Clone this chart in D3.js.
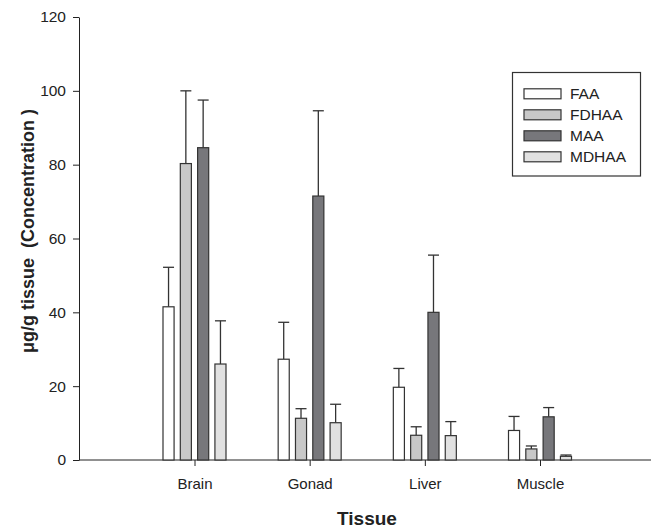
<!DOCTYPE html>
<html>
<head>
<meta charset="utf-8">
<script src="https://d3js.org/d3.v7.min.js"></script>
<style>
  body { margin: 0; background: #fff; }
  svg text { font-family: "Liberation Sans", Arial, sans-serif; fill: #222; }
</style>
</head>
<body>
<svg id="chart" width="651" height="529"></svg>
<script>
// data
var tissues = ["Brain", "Gonad", "Liver", "Muscle"];
var series = ["FAA", "FDHAA", "MAA", "MDHAA"];
var colors = ["#ffffff", "#c8c8c8", "#77777b", "#e1e1e1"];
// mean values, one array per series (Brain, Gonad, Liver, Muscle)
var faa = [41.5, 27.3, 19.7, 8.0];
var fdhaa = [80.3, 11.3, 6.7, 3.0];
var maa = [84.6, 71.5, 40.0, 11.7];
var mdhaa = [26.0, 10.1, 6.6, 1.0];
// top of the error bars
var faaErr = [52.2, 37.3, 24.8, 11.8];
var fdhaaErr = [100.0, 13.9, 9.0, 3.8];
var maaErr = [97.5, 94.6, 55.5, 14.2];
var mdhaaErr = [37.7, 15.1, 10.4, 1.35];
var yTicks = [0, 20, 40, 60, 80, 100, 120];

var values = [faa, fdhaa, maa, mdhaa];
var errs = [faaErr, fdhaaErr, maaErr, mdhaaErr];

var svg = d3.select("#chart");
var mLeft = 79, mRight = 651, mTop = 17, mBottom = 460;

var y = d3.scaleLinear().domain([0, 120]).range([mBottom, mTop]);
var x = d3.scalePoint().domain(tissues).range([194.5, 540]);
var xs = d3.scaleBand().domain(series).range([-31.5, 31.5]).paddingInner(0.36);

// y axis
var yAxis = svg.append("g")
    .attr("transform", "translate(" + mLeft + ",0)")
    .call(d3.axisLeft(y).tickValues(yTicks).tickSize(6).tickSizeOuter(0));
yAxis.select(".domain").attr("stroke", "#222");
yAxis.selectAll(".tick line").attr("stroke", "#222");
yAxis.selectAll("text").attr("font-size", 15.5).attr("fill", "#222").attr("x", -13);

// x axis
var xAxis = svg.append("g")
    .attr("transform", "translate(0," + mBottom + ")")
    .call(d3.axisBottom(x).tickSize(6).tickSizeOuter(0));
xAxis.select(".domain").remove();
xAxis.append("line").attr("x1", mLeft).attr("x2", mRight).attr("stroke", "#222");
xAxis.selectAll(".tick line").attr("stroke", "#222");
xAxis.selectAll("text").attr("font-size", 15).attr("fill", "#222").attr("dy", "1.35em");

// bars and error bars
series.forEach(function(s, si) {
    var g = svg.append("g");
    var rows = tissues.map(function(t, i) {
        return { t: t, v: values[si][i], e: errs[si][i] };
    });
    var cx = function(d) { return x(d.t) + xs(s) + xs.bandwidth() / 2; };

    g.selectAll("line.err")
        .data(rows)
        .enter()
        .append("line")
        .attr("x1", cx).attr("x2", cx)
        .attr("y1", function(d) { return y(d.v); })
        .attr("y2", function(d) { return y(d.e); })
        .attr("stroke", "#333").attr("stroke-width", 1.3);
    g.selectAll("line.cap")
        .data(rows)
        .enter()
        .append("line")
        .attr("x1", function(d) { return cx(d) - 5.5; })
        .attr("x2", function(d) { return cx(d) + 5.5; })
        .attr("y1", function(d) { return y(d.e); })
        .attr("y2", function(d) { return y(d.e); })
        .attr("stroke", "#333").attr("stroke-width", 1.3);
    g.selectAll("rect")
        .data(rows)
        .enter()
        .append("rect")
        .attr("x", function(d) { return x(d.t) + xs(s); })
        .attr("width", xs.bandwidth())
        .attr("y", function(d) { return y(d.v); })
        .attr("height", function(d) { return y(0) - y(d.v); })
        .attr("fill", colors[si])
        .attr("stroke", "#333").attr("stroke-width", 1.2);
});

// axis titles
svg.append("text")
    .attr("transform", "translate(34,231) rotate(-90)")
    .attr("text-anchor", "middle")
    .attr("font-size", 18).attr("font-weight", "bold")
    .style("white-space", "pre")
    .text("\u03bcg/g tissue  (Concentration )");
svg.append("text")
    .attr("x", 367).attr("y", 525)
    .attr("text-anchor", "middle")
    .attr("font-size", 19).attr("font-weight", "bold")
    .text("Tissue");

// legend
var legend = svg.append("g");
legend.append("rect")
    .attr("x", 512.5).attr("y", 72.5).attr("width", 128).attr("height", 103.5)
    .attr("fill", "#fff").attr("stroke", "#333").attr("stroke-width", 1.2);
var items = legend.selectAll("g.item")
    .data(series)
    .enter()
    .append("g")
    .attr("transform", function(d, i) { return "translate(0," + (93.8 + i * 21) + ")"; });
items.append("rect")
    .attr("x", 524).attr("y", -5).attr("width", 37).attr("height", 10)
    .attr("fill", function(d, i) { return colors[i]; })
    .attr("stroke", "#333").attr("stroke-width", 1.2);
items.append("text")
    .attr("x", 570).attr("dy", "0.36em")
    .attr("font-size", 15.5)
    .text(function(d) { return d; });
</script>
</body>
</html>
